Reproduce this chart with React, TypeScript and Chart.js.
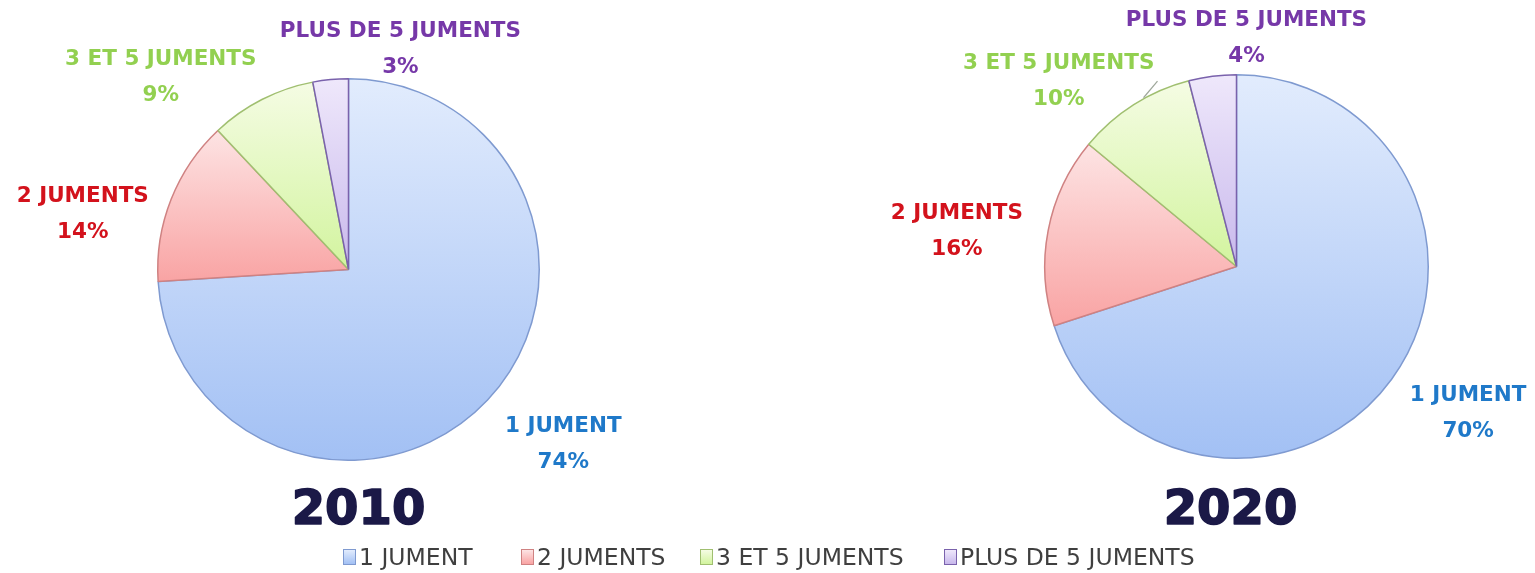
import React, { useEffect, useRef } from "react";
import { Chart, registerables } from "chart.js";

Chart.register(...registerables);

// ---- data ----
const categories = ["1 JUMENT", "2 JUMENTS", "3 ET 5 JUMENTS", "PLUS DE 5 JUMENTS"];
const values2010 = [74, 14, 9, 3];
const values2020 = [70, 16, 10, 4];
const years = ["2010", "2020"];

// ---- styles ----
const gradTop = ["#e2ecfd", "#fde4e4", "#f5fce4", "#efe8fb"];
const gradBottom = ["#a2c0f4", "#f9a3a3", "#d2f49e", "#c8b8ec"];
const borderColors = ["#7f9ad0", "#cf8282", "#a0bf70", "#7a62ac"];
const labelColors = ["#1f79c9", "#d3121c", "#92d050", "#7638a8"];

// label centres relative to pie centre, in units of radius
const labelOffsets2010 = [[1.126, 0.906], [-1.393, -0.304], [-0.984, -1.021], [0.272, -1.168]];
const labelOffsets2020 = [[1.208, 0.755], [-1.458, -0.193], [-0.927, -0.979], [0.052, -1.203]];
const leader2020 = [[-0.412, -0.967], [-0.485, -0.880]];

function sliceFill(values: number[]) {
  return (ctx: any) => {
    const chart = ctx.chart;
    const area = chart.chartArea;
    const i = ctx.dataIndex;
    if (!area || i === undefined) return gradBottom[i ?? 0];
    const cx = (area.left + area.right) / 2;
    const cy = (area.top + area.bottom) / 2;
    const r = Math.min(area.width, area.height) / 2;
    const total = values.reduce((a, b) => a + b, 0);
    let start = 0;
    for (let k = 0; k < i; k++) start += values[k];
    const a0 = -Math.PI / 2 + (start / total) * 2 * Math.PI;
    const a1 = a0 + (values[i] / total) * 2 * Math.PI;
    const pts = [a0, a1];
    for (const a of [-Math.PI / 2, Math.PI / 2, (3 * Math.PI) / 2]) if (a >= a0 && a <= a1) pts.push(a);
    let minY = cy, maxY = cy;
    for (const a of pts) {
      const y = cy + r * Math.sin(a);
      minY = Math.min(minY, y);
      maxY = Math.max(maxY, y);
    }
    const g = chart.ctx.createLinearGradient(0, minY, 0, maxY + 1);
    g.addColorStop(0, gradTop[i]);
    g.addColorStop(1, gradBottom[i]);
    return g;
  };
}

function makeLabelPlugin(values: number[], offsets: number[][], year: string, titleDx: number, leader?: number[][]) {
  return {
    id: "pieLabels" + year,
    afterDraw(chart: any) {
      const meta = chart.getDatasetMeta(0);
      const arc = meta.data[0];
      if (!arc) return;
      const cx = arc.x, cy = arc.y, r = arc.outerRadius;
      const ctx = chart.ctx;
      const total = values.reduce((a, b) => a + b, 0);
      ctx.save();
      if (leader) {
        ctx.strokeStyle = "#9ea79a";
        ctx.lineWidth = 1.2;
        ctx.beginPath();
        ctx.moveTo(cx + leader[0][0] * r, cy + leader[0][1] * r);
        ctx.lineTo(cx + leader[1][0] * r, cy + leader[1][1] * r);
        ctx.stroke();
      }
      ctx.font = "bold 21.5px 'DejaVu Sans'";
      ctx.textAlign = "center";
      ctx.textBaseline = "alphabetic";
      values.forEach((v, i) => {
        const x = cx + offsets[i][0] * r;
        const y = cy + offsets[i][1] * r;
        ctx.fillStyle = labelColors[i];
        ctx.fillText(categories[i], x, y - 18 + 8);
        ctx.fillText(Math.round((v / total) * 100) + "%", x, y + 18 + 8);
      });
      ctx.font = "bold 48px 'DejaVu Sans'";
      ctx.fillStyle = "#1b1947";
      ctx.strokeStyle = "#1b1947";
      ctx.lineWidth = 1.6;
      ctx.lineJoin = "round";
      ctx.fillText(year, cx + titleDx, 524);
      ctx.strokeText(year, cx + titleDx, 524);
      ctx.restore();
    },
  };
}

function PieCanvas(props: {
  values: number[];
  offsets: number[][];
  year: string;
  titleDx: number;
  left: number;
  width: number;
  padding: { left: number; right: number; top: number; bottom: number };
  leader?: number[][];
}) {
  const ref = useRef<HTMLCanvasElement | null>(null);
  useEffect(() => {
    if (!ref.current) return;
    const chart = new Chart(ref.current, {
      type: "pie",
      data: {
        labels: categories,
        datasets: [
          {
            data: props.values,
            backgroundColor: sliceFill(props.values) as any,
            borderColor: borderColors,
            borderWidth: 1.5,
          },
        ],
      },
      options: {
        responsive: false,
        animation: false,
        layout: { padding: props.padding },
        plugins: { legend: { display: false }, tooltip: { enabled: false }, title: { display: false } },
      },
      plugins: [makeLabelPlugin(props.values, props.offsets, props.year, props.titleDx, props.leader)],
    });
    return () => chart.destroy();
  }, []);
  return (
    <canvas
      ref={ref}
      width={props.width}
      height={573}
      style={{ position: "absolute", left: props.left, top: 0, width: props.width, height: 573 }}
    />
  );
}

const legendX = [343, 521, 700, 944];

export default function App() {
  return (
    <div style={{ position: "fixed", left: 0, top: 0, width: 1535, height: 573, background: "#fff", overflow: "hidden" }}>
      <PieCanvas
        values={values2010}
        offsets={labelOffsets2010}
        year={years[0]}
        titleDx={10}
        left={0}
        width={767}
        padding={{ left: 157, right: 227, top: 78, bottom: 112 }}
      />
      <PieCanvas
        values={values2020}
        offsets={labelOffsets2020}
        year={years[1]}
        titleDx={-6}
        left={767}
        width={768}
        padding={{ left: 277, right: 106, top: 74, bottom: 114 }}
        leader={leader2020}
      />
      {categories.map((c, i) => (
        <div
          key={c}
          style={{
            position: "absolute",
            left: legendX[i],
            top: 545,
            height: 24,
            display: "flex",
            alignItems: "center",
            fontFamily: "'DejaVu Sans'",
            fontSize: 23.5,
            color: "#3f3f3f",
            whiteSpace: "nowrap",
          }}
        >
          <span
            style={{
              display: "inline-block",
              width: 11,
              height: 14,
              border: `1px solid ${borderColors[i]}`,
              background: `linear-gradient(${gradTop[i]}, ${gradBottom[i]})`,
              marginRight: 3,
            }}
          />
          <span>{c}</span>
        </div>
      ))}
    </div>
  );
}
